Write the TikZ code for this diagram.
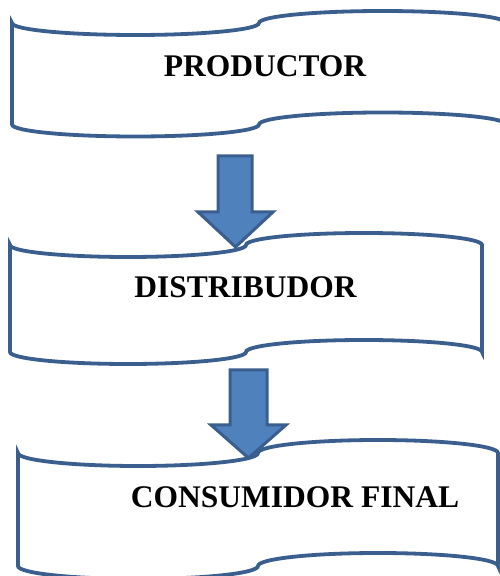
\documentclass[tikz,border=0pt]{standalone}
\usepackage{fontspec}
\setmainfont{Liberation Serif}
\begin{document}
\begin{tikzpicture}[x=1pt,y=1pt,
  bannerline/.style={draw=outlineblue,line width=3.8pt,fill=white},
  blockarrow/.style={draw=outlineblue,line width=3pt,fill=arrowblue,line join=miter},
  label/.style={font=\fontsize{31.5}{36}\selectfont\bfseries,anchor=base,inner sep=0pt}]
\definecolor{outlineblue}{HTML}{3A5E8E}
\definecolor{arrowblue}{HTML}{4F81BD}
\useasboundingbox (0,0) rectangle (500,576);
\clip (0,0) rectangle (500,576);

% wavy banner: left x, quarter width, top mid-line y, bottom mid-line y, wave depth
\newcommand\wavebanner[5]{%
  \path[bannerline] (#1,#3)
    arc[start angle=180,end angle=360,x radius=#2pt,y radius=#5pt]
    arc[start angle=180,end angle=0,x radius=#2pt,y radius=#5pt]
    -- ++(0,#4-#3)
    arc[start angle=0,end angle=180,x radius=#2pt,y radius=#5pt]
    arc[start angle=0,end angle=-180,x radius=#2pt,y radius=#5pt]
    -- cycle;}

% block arrows between the stages
\draw[blockarrow] (218,420) -- (252,420) -- (252,364) -- (273,364)
  -- (235.5,329) -- (198,364) -- (218,364) -- cycle;
\draw[blockarrow] (230,206) -- (267,206) -- (267,151) -- (286,151)
  -- (248.5,118) -- (211,151) -- (230,151) -- cycle;

% the three stages
\wavebanner{12}{123.5}{553}{451.5}{12}
\wavebanner{10}{118}{331}{224}{12}
\wavebanner{18}{120}{123}{10}{13}

\node[label] (prod) at (265,499) {PRODUCTOR};
\node[label] (dist) at (245.5,278) {DISTRIBUDOR};
\node[label] (cons) at (295,68) {CONSUMIDOR FINAL};
\end{tikzpicture}
\end{document}
